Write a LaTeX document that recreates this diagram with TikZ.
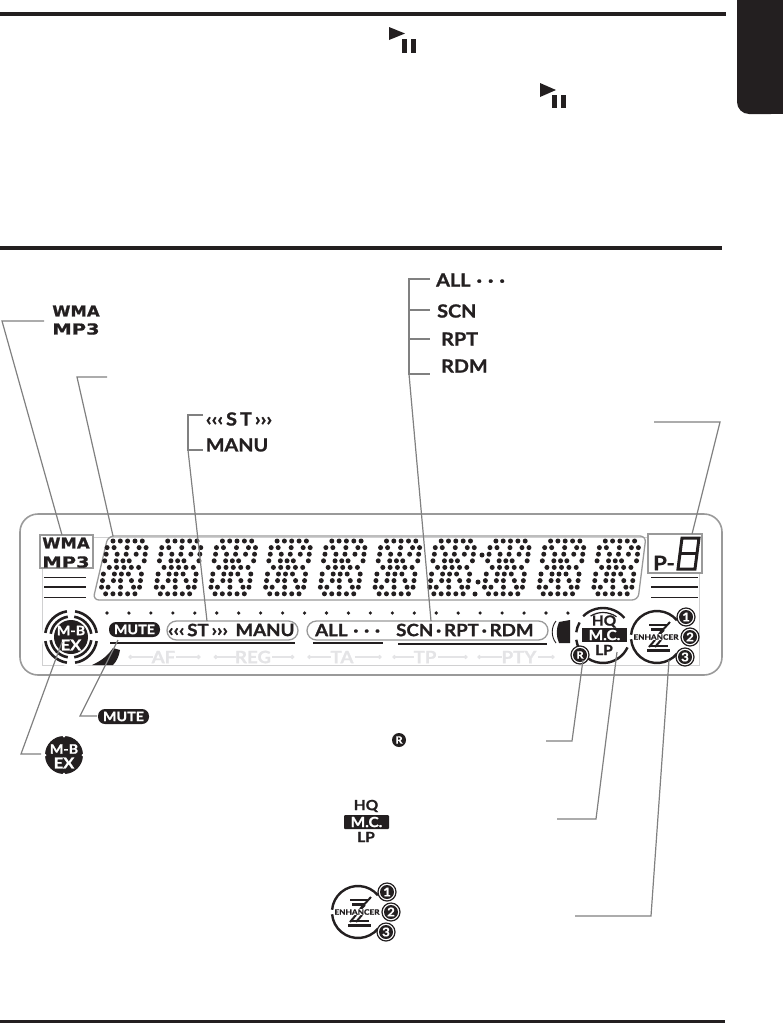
\documentclass[tikz,border=0pt]{standalone}
\usepackage{fontspec}
\setmainfont{Lato}[BoldFeatures={FakeBold=1.2,FakeStretch=1.1}]
\newfontfamily\wmafont{DejaVu Sans}[BoldFeatures={FakeBold=1}]
\usetikzlibrary{arrows.meta}
\definecolor{ink}{HTML}{231F20}
\definecolor{leadgray}{HTML}{808080}
\definecolor{boxgray}{HTML}{9A9A9A}
\definecolor{faintgray}{HTML}{E4E4E6}
\tikzset{
	leader/.style={draw=leadgray,line width=1.2pt},
	rule/.style={draw=ink,line width=4pt},
	boxline/.style={draw=boxgray,line width=1.3pt},
	lbl/.style={font=\bfseries\fontsize{#1}{#1}\selectfont,inner sep=0pt,text=ink},
	lbl/.default=18,
	wlbl/.style={font=\bfseries\fontsize{#1}{#1}\selectfont,inner sep=0pt,text=white},
	wmatxt/.style={font=\wmafont\bfseries\fontsize{15}{15}\selectfont,inner sep=0pt,text=ink},
	faint/.style={font=\bfseries\fontsize{17}{17}\selectfont,inner sep=0pt,text=faintgray},
	faintline/.style={draw=faintgray,line width=1.4pt},
}
% icone enhancer
\newcommand{\enhancericon}[2]{
	\begin{scope}[shift={(#1)}]
		\draw[ink,line width=2.4pt] (0,0) ++(-40:26) arc[start angle=-40,end angle=-175,radius=26];
		\draw[ink,line width=2.4pt] (0,0) ++(40:26) arc[start angle=40,end angle=175,radius=26];
		\draw[ink,line width=2.6pt] (-8,-12) -- (10,-12); \draw[ink,line width=2.6pt] (-6,-7.5) -- (6,-7.5);
		\draw[ink,line width=2pt] (13,-15) -- (2,-3); \draw[ink,line width=2pt] (7,-7) -- (-2,2);
		\draw[ink,line width=2pt] (-2,3) -- (-8,10); \draw[ink,line width=2pt] (4,3) -- (-2,10);
		\draw[ink,line width=2.6pt] (-8,9) -- (11,9); \draw[ink,line width=2.6pt] (-10,13.5) -- (13,13.5);
		\node[lbl=7.5,fill=white,inner sep=0.5pt] (en#2) at (-1,0) {ENHANCER};
		\foreach \n/\dx/\dy in {1/29/-20,2/33/0,3/28/20}{
			\draw[ink,fill=white,line width=1.2pt] (\dx,\dy) circle[radius=9];
			\fill[ink] (\dx,\dy) circle[radius=7];
			\node[wlbl=12] (en#2n\n) at (\dx,\dy) {\n};
		}
	\end{scope}
}
\begin{document}
\begin{tikzpicture}[x=1pt,y=-1pt]
	\useasboundingbox (0,0) rectangle (783,1023);
	%regles
	\draw[rule] (0,14) -- (726,14);
	\draw[rule] (0,248) -- (722,248);
	\draw[rule,line width=3pt] (0,1021) -- (725,1021);
	%onglet
	\fill[ink,rounded corners=12pt] (783,-20) -- (737,-20) -- (737,114) -- (783,114) -- cycle;
	\fill[ink] (770,0) rectangle (783,114);
	%lecture pause
	\fill[ink] (389,27) -- (405,33.5) -- (389,40) -- cycle;
	\fill[ink] (402,39) rectangle (407,53); \fill[ink] (411,39) rectangle (416,53);
	\fill[ink] (540,83) -- (556,90) -- (540,97) -- cycle;
	\fill[ink] (552,95) rectangle (557,108); \fill[ink] (561,95) rectangle (566,108);

	%etiquettes du haut
	\node[wmatxt] (wmalbl) at (76,311) {\scalebox{1.1}[1]{WMA}};
	\node[wmatxt] (mp3lbl) at (76,329) {\scalebox{1.3}[1]{MP3}};
	\node[lbl] (stlbl) at (239,419) {‹‹‹\,S\,T\,›››};
	\node[lbl] (manulbl) at (237,445) {MANU};
	\node[lbl,anchor=west] (alllbl) at (436,280) {ALL\,\,·\,\,·\,\,·};
	\node[lbl,anchor=west] (scnlbl) at (437,311) {SCN};
	\node[lbl,anchor=west] (rptlbl) at (441,339) {RPT};
	\node[lbl,anchor=west] (rdmlbl) at (441,366) {RDM};

	%le panneau
	\draw[boxline,line width=1.6pt,rounded corners=18pt] (20,514) rectangle (722,675);
	\draw[draw=faintgray!80!gray,line width=0.7pt] (42,537) rectangle (699,665);
	\draw[boxline,rounded corners=6pt] (108,536) -- (646,536) -- (638,600) -- (93,600) -- cycle;
	\draw[boxline,fill=white] (40,535) rectangle (93,568);
	\node[wmatxt] (wmadisp) at (66,543) {\scalebox{1.1}[1]{WMA}};
	\node[wmatxt] (mp3disp) at (66,562) {\scalebox{1.3}[1]{MP3}};
	\draw[boxline,fill=white] (648,534) rectangle (702,573);
	\node[lbl=20] (pdisp) at (664,563) {P-};
	\draw[ink,line width=3pt] (682,538) -- (699,538) -- (695,569) -- (678,569) -- cycle;
	\draw[ink,line width=3pt] (680,553.5) -- (697,553.5);
	%traits
	\foreach \y/\w in {577/1,587/1.5,597/1}{
		\draw[ink,line width=\w pt] (44,\y) -- (86,\y);
		\draw[ink,line width=\w pt] (651,\y) -- (698,\y);
	}
	%la matrice de points
	\foreach \k in {0,...,9}{
		\foreach \r/\lst in {0/{0,7.3,14.6,22,29.3},1/{-5,2,15,27,34},2/{-5,6,15,25,34},3/{-5.5,6,12.7,19,34},
			4/{0,7.3,14.6,22,29.3},5/{-5,6,13,20,33},6/{-5,6,13,24,33},7/{-5,1.5,14,27,33},8/{0,7.3,14.6,22,29.3}}{
			\foreach \d in \lst{
				\fill[ink] ({113+54.7*\k+\d-0.92*\r},{541+6.6*\r}) circle[radius=2.5];
			}
		}
	}
	\fill[ink] (482,555) circle[radius=2.5]; \fill[ink] (478,582) circle[radius=2.5]; \fill[ink] (475,594) circle[radius=2.5];
	%petits points
	\foreach \k in {0,...,21}{
		\fill[ink] ({107+21.95*\k},613) circle[radius=1.8];
	}
	%boutons
	\draw[boxline,rounded corners=9.5pt] (167,621) rectangle (298,640);
	\draw[boxline,rounded corners=9.5pt] (307,621) rectangle (548,640);
	\node[lbl=17] (stdisp) at (198,630) {‹‹‹\,ST\,›››};
	\node[lbl=17] (manudisp) at (265,630) {MANU};
	\node[lbl=17,anchor=west] (alldisp) at (315,630) {ALL\,\,·\,\,·\,\,·};
	\node[lbl=17,anchor=west] (scndisp) at (396,630) {SCN\,·\,RPT\,·\,RDM};
	\draw[ink,line width=1.3pt] (110,643) -- (295,643);
	\draw[ink,line width=1.3pt] (313,643) -- (383,643);
	\draw[ink,line width=1.3pt] (398,644) -- (547,644);
	\fill[ink,rounded corners=7pt] (109,622) rectangle (160,637);
	\node[wlbl=13] (mutedisp) at (134.5,629.5) {MUTE};
	%texte pale
	\foreach \nom/\txt/\xc/\gg/\dd in {af/AF/163.5/24/24,reg/REG/253/22/22,ta/TA/342/24/27,tp/TP/425/22/30,pty/PTY/519/25/17}{
		\node[faint] (\nom) at (\xc,657) {\txt};
		\draw[faintline,{Circle[length=4pt]}-] (\nom.west) ++(-{\gg+1},0) -- ++(\gg,0);
		\draw[faintline,-{Circle[length=4pt]}] (\nom.east) ++(1,0) -- ++(\dd,0);
	}
	%bloc noir
	\fill[ink] (92,665) .. controls (103,660) and (108,655) .. (113,648) -- (120,650) .. controls (119,656) and (117,661) .. (113,665) -- cycle;
	\fill[ink] (559,622) -- (570,620) -- (570,643) -- (559,643) .. controls (556,636) and (556,629) .. (559,622) -- cycle;
	\draw[ink,line width=0.9pt] (556,621) .. controls (551,627) and (551,637) .. (556,643);
	%M-B EX
	\draw[white,fill=white] (71,637) circle[radius=29];
	\foreach \a in {45,135,225,315}{
		\draw[ink,line width=2.6pt] (71,637) ++({\a-36}:26) arc[start angle={\a-36},end angle={\a+36},radius=26];
		\draw[ink,line width=2.6pt] (71,637) ++({\a-36}:20.5) arc[start angle={\a-36},end angle={\a+36},radius=20.5];
	}
	\fill[ink] (71,637) circle[radius=17];
	\node[wlbl=13] (mbdisp) at (71,630.5) {M-B};
	\node[wlbl=15] (exdisp) at (71,645) {EX};
	%M.C.
	\draw[ink,line width=2.4pt] (603,636) ++(-135:28) arc[start angle=-135,end angle=-40,radius=28];
	\draw[ink,line width=1.2pt] (603,636) ++(-122:23.5) arc[start angle=-122,end angle=-55,radius=23.5];
	\draw[ink,line width=2.4pt] (603,636) ++(25:27) arc[start angle=25,end angle=125,radius=27];
	\draw[ink,line width=2.4pt] (603,636) ++(-172:27) arc[start angle=-172,end angle=-150,radius=27];
	\draw[ink,line width=2.4pt] (603,636) ++(172:27) arc[start angle=172,end angle=150,radius=27];
	\node[lbl=14] (hqdisp) at (604,621.5) {HQ};
	\fill[ink] (582,628) rectangle (627,642);
	\node[wlbl=14] (mcdisp) at (604.5,635) {M.C.};
	\node[lbl=14] (lpdisp) at (604,650) {LP};
	\draw[ink,fill=white,line width=1.2pt] (580,655) circle[radius=9];
	\fill[ink] (580,655) circle[radius=7];
	\node[wlbl=10] (rdisp) at (580,655) {R};
	\enhancericon{657,637}{disp}

	%icones du bas
	\fill[ink,rounded corners=7pt] (98,709) rectangle (149,724);
	\node[wlbl=13] (muteicon) at (123.5,716.5) {MUTE};
	\fill[ink] (64,755) circle[radius=19];
	\foreach \a in {0,90,180,270}{
		\fill[white] (64,755) ++(\a:19) circle[radius=1.5];
	}
	\node[wlbl=13] (mbicon) at (64,749) {M-B};
	\node[wlbl=15] (exicon) at (64,763) {EX};
	\fill[ink] (399,740) circle[radius=7];
	\node[wlbl=10] (ricon) at (399,740) {R};
	\node[lbl=14] (hqicon) at (366,806) {HQ};
	\fill[ink,rounded corners=1pt] (344,815) rectangle (389,829);
	\node[wlbl=14] (mcicon) at (366.5,822) {M.C.};
	\node[lbl=14] (lpicon) at (366,837) {LP};
	\enhancericon{358,912}{icon}

	%les renvois
	\coordinate (wmastart) at (44,321);
	\coordinate (wmaend) at (62,535);
	\draw[leader] (wmastart) -- (2,321) -- (wmaend);
	\coordinate (dotstart) at (107,377);
	\coordinate (dotend) at (113,536);
	\draw[leader] (dotstart) -- (77,377) -- (dotend);
	\coordinate (ststart) at (203,415);
	\coordinate (manustart) at (203,450);
	\coordinate (manuend) at (207,621);
	\draw[leader] (ststart) -- (188,415) -- (188,450) -- (manustart);
	\draw[leader] (188,450) -- (manuend);
	\coordinate (allstart) at (430,279);
	\coordinate (rdmstart) at (430,374);
	\coordinate (rdmend) at (431,621);
	\draw[leader] (allstart) -- (409,279) -- (409,374) -- (rdmstart);
	\draw[leader] (409,310) -- (430,310);
	\draw[leader] (409,339) -- (430,339);
	\draw[leader] (409,374) -- (rdmend);
	\coordinate (pstart) at (654,422);
	\coordinate (pend) at (692,534);
	\draw[leader] (pstart) -- (720,422) -- (pend);
	\coordinate (mutestart) at (97,716);
	\coordinate (muteend) at (118,640);
	\draw[leader] (mutestart) -- (80,716) -- (muteend);
	\coordinate (mbstart) at (41,754);
	\coordinate (mbend) at (62,642);
	\draw[leader] (mbstart) -- (21,754) -- (mbend);
	\coordinate (rstart) at (546,741);
	\coordinate (rend) at (583,660);
	\draw[leader] (rstart) -- (572,741) -- (rend);
	\coordinate (mcstart) at (557,819);
	\coordinate (mcend) at (617,652);
	\draw[leader] (mcstart) -- (596,819) -- (mcend);
	\coordinate (enstart) at (575,916);
	\coordinate (enend) at (669,660);
	\draw[leader] (enstart) -- (651,916) -- (enend);
\end{tikzpicture}
\end{document}
